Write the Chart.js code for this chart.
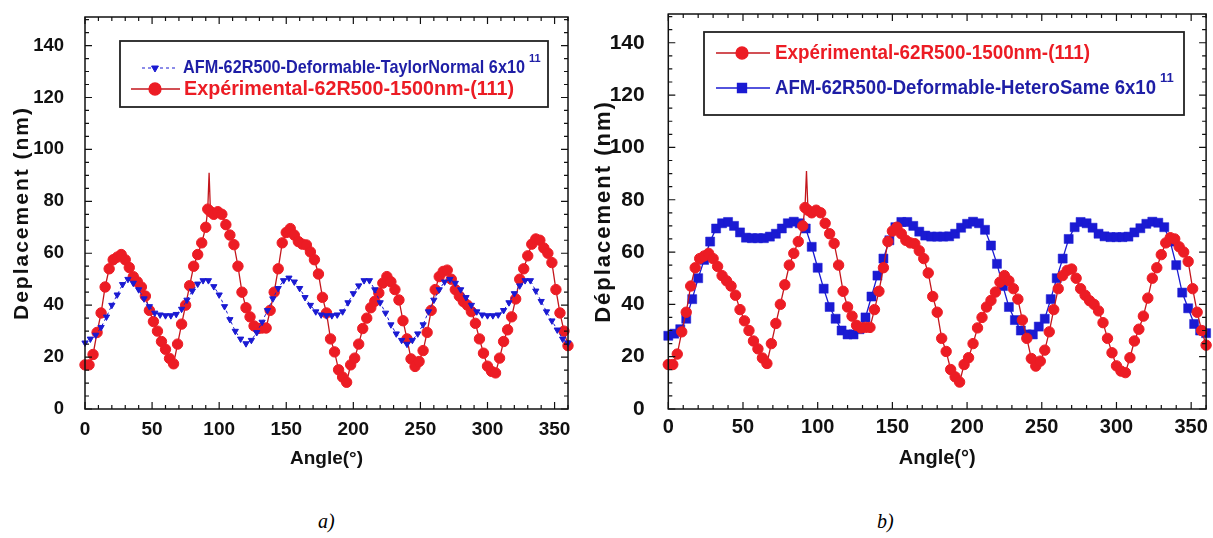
<!DOCTYPE html>
<html><head><meta charset="utf-8">
<script src="https://cdn.jsdelivr.net/npm/chart.js@4.4.0/dist/chart.umd.min.js"></script>
<style>
html,body{margin:0;padding:0;background:#fff;width:1213px;height:538px;overflow:hidden;}
#wa{position:absolute;left:0;top:0;width:590px;height:490px;}
#wb{position:absolute;left:590px;top:0;width:623px;height:490px;}
.cap{position:absolute;top:510px;font-family:"Liberation Serif","Times New Roman",serif;font-style:italic;font-size:20px;color:#000;}
</style></head><body>
<div id="wa"><canvas id="ca" width="590" height="490"></canvas></div>
<div id="wb"><canvas id="cb" width="623" height="490"></canvas></div>
<div class="cap" style="left:318px">a)</div>
<div class="cap" style="left:877px">b)</div>
<script>
// ---------------- DATA ----------------
const xTickLabels = [0, 50, 100, 150, 200, 250, 300, 350];
const yTickLabels = [0, 20, 40, 60, 80, 100, 120, 140];

const expLabel = 'Expérimental-62R500-1500nm-(111)';
const taylorLabel = 'AFM-62R500-Deformable-TaylorNormal 6x10';
const heteroLabel = 'AFM-62R500-Deformable-HeteroSame 6x10';
const powerLabel = '11';
const xTitle = 'Angle(°)';
const yTitleA = 'Deplacement (nm)';
const yTitleB = 'Déplacement (nm)';

const expAngles = [0,3,6,9,12,15,18,21,24,27,30,33,36,39,42,45,48,51,54,57,60,63,66,69,72,75,78,81,84,87,90,91.5,92.5,93.5,96,99,102,105,108,111,114,117,120,123,126,129,132,135,138,141,144,147,150,153,156,159,162,165,168,171,174,177,180,183,186,189,192,195,198,201,204,207,210,213,216,219,222,225,228,231,234,237,240,243,246,249,252,255,258,261,264,267,270,273,276,279,282,285,288,291,294,297,300,303,306,309,312,315,318,321,324,327,330,333,336,339,342,345,348,351,354,357,360];
const expValues = [17,17,21,29.5,37,47,54,57.5,58.5,59.5,57.5,54.5,51,49,47,43.5,38,33.7,30,26,23,19.5,17.4,25,32.7,40,47.5,55,59.5,64,70,77,91,76,75,76,75,71,67,63.3,55,45,39,35.5,32,31,31.2,31.2,38,45,54,64,68,69.5,67,64.5,63.5,63.2,60.5,57.5,52,43,37,27,22,15.1,12.3,10.3,17,19.6,25,31,35,39,41.5,44.7,48.5,51,49,46,42,34,27,19.3,16.4,18.3,22.5,29.5,38,46,51,53,53.5,50,46,43.5,41.4,40,37.5,33,27,21.5,16.5,14.5,13.9,19.6,26,30.5,35.5,42.4,50,54,59,63.5,65.5,65,62,60,56.4,46,37,30,24.4];

const simAngles = [0,4,8,12,16,20,24,28,32,36,40,44,48,52,56,60,64,68,72,76,80,84,88,92,96,100,104,108,112,116,120,124,128,132,136,140,144,148,152,156,160,164,168,172,176,180,184,188,192,196,200,204,208,212,216,220,224,228,232,236,240,244,248,252,256,260,264,268,272,276,280,284,288,292,296,300,304,308,312,316,320,324,328,332,336,340,344,348,352,356,360];
const taylorValues = [25.5,27,28.5,31.5,35.5,40,44,48,50,48.5,46,42.5,39.5,37,36.3,36,36,36.5,38.5,42,45.5,48.2,49.5,49.5,47.2,44,39.5,34.5,30,27,25.2,26.5,29.5,33.5,38,42.5,46.5,49.5,50.5,49,46.5,43,40,37.5,36.3,36,36,36.3,37.5,41,44.5,47.5,49.5,49.5,46,41,37,32.5,29,26.5,25,26.5,29,32.5,37.5,42,46,49,50,48.5,46,43,40,37.5,36.3,36,36,36.3,38,41,44.5,47.5,49.5,49.5,45.5,41.5,37.5,34,30.5,27,25.5];
const heteroValues = [28,28.8,30.5,34.5,42,50,57,64,69,71,71.5,70,67.5,65.5,65.3,65.3,65.3,65.9,67,69,71,71.6,71,69,62,54,46,39,34.5,30,28.5,28.5,30.5,35,43,51,57.5,64.5,69.5,71.5,71.5,70,67.8,66.3,65.9,65.9,65.9,66,67,69.3,70.8,71.6,71,68.5,62.5,55.5,47,39,34,30,28.5,28.5,31.5,34.5,42,50,57.5,65,69.5,71.5,71,69.3,67,66,65.7,65.7,65.7,65.9,67.5,69.1,70.8,71.6,71.2,69.5,64,55,44.5,38.5,32.5,30,29];

// ---------------- STYLE / PLUGINS ----------------
const RED = '#ec1c24', REDLINE = '#c3161c', BLUE = '#1a1ad2', BLUETEXT = '#1e1ea6';
const FONT = '"Liberation Sans", Arial, sans-serif';
function pts(xs, ys){ return xs.map((x,i)=>({x:x, y:ys[i]})); }

const frameTicks = {
  id:'frameTicks',
  afterDatasetsDraw(chart){
    const {ctx, chartArea:a, scales:{x, y}} = chart;
    ctx.save();
    ctx.strokeStyle = '#111'; ctx.lineWidth = 1.5;
    ctx.strokeRect(a.left, a.top, a.right-a.left, a.bottom-a.top);
    ctx.lineWidth = 1.2;
    ctx.beginPath();
    for (let v = 0; v <= x.max; v += 10) {
      const px = x.getPixelForValue(v), L = (v % 50 === 0) ? 7 : 4;
      ctx.moveTo(px, a.bottom); ctx.lineTo(px, a.bottom - L);
      ctx.moveTo(px, a.top); ctx.lineTo(px, a.top + L);
    }
    for (let v = 0; v <= y.max; v += 5) {
      const py = y.getPixelForValue(v), L = (v % 20 === 0) ? 7 : 4;
      ctx.moveTo(a.left, py); ctx.lineTo(a.left + L, py);
      ctx.moveTo(a.right, py); ctx.lineTo(a.right - L, py);
    }
    ctx.stroke();
    ctx.restore();
  }
};

const boxLegend = {
  id:'boxLegend',
  afterDraw(chart, args, o){
    if (!o || !o.box) return;
    const ctx = chart.ctx;
    ctx.save();
    ctx.fillStyle = '#fff';
    ctx.fillRect(o.box[0], o.box[1], o.box[2]-o.box[0], o.box[3]-o.box[1]);
    ctx.strokeStyle = '#222'; ctx.lineWidth = 1.8;
    ctx.strokeRect(o.box[0], o.box[1], o.box[2]-o.box[0], o.box[3]-o.box[1]);
    o.items.forEach(it => {
      const ds = chart.data.datasets[it.ds];
      ctx.strokeStyle = ds.borderColor; ctx.lineWidth = ds.borderWidth;
      ctx.setLineDash(ds.borderDash || []);
      ctx.beginPath(); ctx.moveTo(it.l1, it.y); ctx.lineTo(it.l2, it.y); ctx.stroke();
      ctx.setLineDash([]);
      ctx.fillStyle = ds.pointBackgroundColor; ctx.strokeStyle = ds.pointBorderColor;
      Chart.helpers.drawPoint(ctx, {pointStyle: ds.pointStyle, rotation: ds.pointRotation || 0,
        radius: it.r, borderWidth: 1}, it.mx, it.y);
      ctx.font = 'bold ' + it.size + 'px ' + FONT;
      ctx.fillStyle = it.color; ctx.textBaseline = 'middle'; ctx.textAlign = 'left';
      const nat = ctx.measureText(ds.label).width;
      const w = Math.min(nat, it.w);
      ctx.fillText(ds.label, it.tx, it.y, it.w);
      if (it.sup) {
        ctx.font = 'bold ' + Math.round(it.size*0.6) + 'px ' + FONT;
        ctx.fillText(it.sup, it.tx + w + 4, it.y - it.size*0.45, it.size);
      }
    });
    ctx.restore();
  }
};

function makeChart(id, datasets, cfg){
  const ch = new Chart(document.getElementById(id), {
    type:'line',
    data:{datasets},
    options:{
      responsive:false, animation:false, devicePixelRatio:1,
      layout:{padding:{left:0, right:cfg.padRight, top:cfg.padTop, bottom:0}},
      plugins:{legend:{display:false}, tooltip:{enabled:false}, boxLegend:cfg.legend},
      scales:{
        x:{type:'linear', min:0, max:360,
          afterBuildTicks: ax => { ax.ticks = xTickLabels.map(v=>({value:v})); },
          afterFit: ax => { ax.height = cfg.xHeight; ax.paddingLeft = 0; ax.paddingRight = 0; },
          grid:{display:false}, border:{display:false},
          ticks:{color:'#111', padding:cfg.xTickPad, maxRotation:0, autoSkip:false,
            font:{family:FONT, weight:'bold', size:cfg.xTickSize}},
          title:{display:true, text:xTitle, color:'#111', padding:{top:0, bottom:cfg.xTitlePad},
            font:{family:FONT, weight:'bold', size:cfg.xTitleSize}}
        },
        y:{type:'linear', min:0, max:151,
          afterBuildTicks: ax => { ax.ticks = yTickLabels.map(v=>({value:v})); },
          afterFit: ax => { ax.width = cfg.yWidth; ax.paddingTop = 0; ax.paddingBottom = 0; },
          grid:{display:false}, border:{display:false},
          ticks:{color:'#111', padding:cfg.yTickPad, autoSkip:false,
            font:{family:FONT, weight:'bold', size:cfg.yTickSize}},
          title:{display:true, text:cfg.yTitle, color:'#111', padding:{top:cfg.yTitlePad, bottom:0},
            font:{family:FONT, weight:'bold', size:cfg.yTitleSize}}
        }
      }
    },
    plugins:[frameTicks, boxLegend]
  });
  // letter-spaced y axis title, as in the reference
  const ys = ch.scales.y, orig = ys.drawTitle.bind(ys);
  ys.drawTitle = function(){
    const c = this.ctx, prev = c.letterSpacing;
    c.letterSpacing = cfg.ySpacing; orig(); c.letterSpacing = prev || '0px';
  };
  ch.draw();
  return ch;
}

function expDataset(){
  return {label:expLabel, data:pts(expAngles, expValues), borderColor:REDLINE, borderWidth:1.3,
    pointStyle:'circle', pointRadius: c => (c.raw && c.raw.y > 85) ? 0 : 5.2,
    pointBackgroundColor:RED, pointBorderColor:RED, pointBorderWidth:1, clip:false, tension:0};
}

makeChart('ca', [
  {label:taylorLabel, data:pts(simAngles, taylorValues), borderColor:BLUE, borderWidth:1, borderDash:[3,3],
   pointStyle:'triangle', pointRotation:180, pointRadius:3.6, pointBackgroundColor:BLUE, pointBorderColor:BLUE,
   pointBorderWidth:1, clip:false},
  expDataset()
], {
  padRight:22, padTop:17, xHeight:81, yWidth:85, xTickPad:1, xTickSize:19, yTickPad:13, yTickSize:18.5,
  xTitlePad:20, xTitleSize:19, yTitlePad:9.4, yTitleSize:21, ySpacing:'2px', yTitle:yTitleA,
  legend:{box:[120,41,548,107], items:[
    {ds:0, y:68, l1:142, l2:176, mx:155, r:4, tx:183, size:19, w:342, color:BLUETEXT, sup:powerLabel},
    {ds:1, y:89, l1:131, l2:180, mx:155, r:6, tx:184, size:21, w:330, color:RED}
  ]}
});

makeChart('cb', [
  expDataset(),
  {label:heteroLabel, data:pts(simAngles, heteroValues), borderColor:BLUE, borderWidth:1.3,
   pointStyle:'rect', pointRadius:6.4, pointBackgroundColor:BLUE, pointBorderColor:BLUE,
   pointBorderWidth:0.5, clip:false}
], {
  padRight:4.7, padTop:14, xHeight:81, yWidth:78.3, xTickPad:-2, xTickSize:20, yTickPad:15.6, yTickSize:21,
  xTitlePad:20, xTitleSize:20, yTitlePad:0.5, yTitleSize:22, ySpacing:'2px', yTitle:yTitleB,
  legend:{box:[114,32,594,115], items:[
    {ds:0, y:53, l1:126, l2:180, mx:152, r:6, tx:185, size:21, w:315, color:RED},
    {ds:1, y:88, l1:126, l2:180, mx:152, r:6.4, tx:185, size:21, w:381, color:BLUETEXT, sup:powerLabel}
  ]}
});
</script>
</body></html>
